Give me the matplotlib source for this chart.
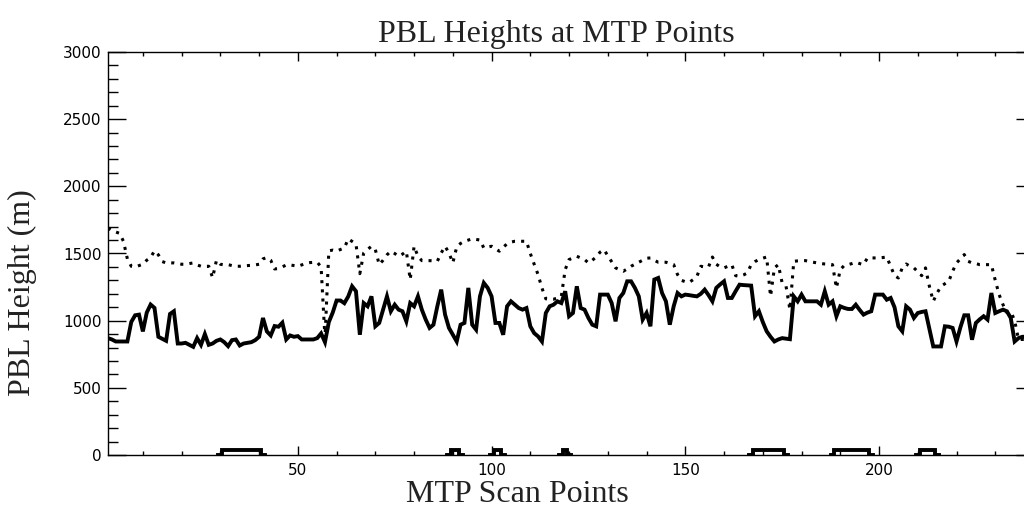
import numpy as np
import matplotlib
matplotlib.use("Agg")
import matplotlib.pyplot as plt
from matplotlib.ticker import MultipleLocator

# MTP scan point index
scan = np.arange(1, 239)

# PBL height, solid curve (m)
pbl_solid = [
    870, 860, 845, 845, 845, 845, 990, 1040, 1045, 920,
    1060, 1120, 1095, 880, 865, 850, 1050, 1070, 830, 830,
    835, 820, 805, 870, 820, 900, 820, 830, 850, 860,
    840, 810, 855, 860, 815, 830, 835, 840, 855, 880,
    1020, 920, 890, 960, 955, 985, 860, 890, 880, 885,
    860, 860, 860, 860, 870, 905, 840, 990, 1060, 1150,
    1150, 1130, 1180, 1256, 1219, 895, 1131, 1107, 1181, 958,
    983, 1082, 1181, 1070, 1119, 1082, 1070, 995, 1131, 1107,
    1181, 1082, 1008, 946, 970, 1107, 1231, 1045, 946, 895,
    845, 970, 983, 1244, 970, 933, 1181, 1281, 1244, 1181,
    983, 983, 895, 1107, 1144, 1119, 1094, 1082, 1094, 958,
    907, 883, 845, 1057, 1107, 1119, 1144, 1131, 1219, 1033,
    1057, 1256, 1094, 1082, 1020, 970, 958, 1194, 1194, 1194,
    1131, 995, 1169, 1206, 1293, 1293, 1244, 1181, 1008, 1057,
    958, 1306, 1318, 1206, 1144, 970, 1107, 1206, 1181, 1194,
    1190, 1185, 1181, 1200, 1231, 1190, 1144, 1244, 1270, 1293,
    1169, 1169, 1220, 1268, 1265, 1263, 1261, 1033, 1070, 990,
    921, 880, 845, 860, 870, 866, 862, 1181, 1144, 1194,
    1144, 1144, 1144, 1144, 1119, 1219, 1119, 1144, 1033, 1107,
    1095, 1087, 1087, 1119, 1080, 1045, 1060, 1070, 1194, 1194,
    1194, 1156, 1169, 1100, 958, 921, 1107, 1082, 1020, 1057,
    1065, 1070, 940, 808, 808, 808, 958, 955, 946, 845,
    950, 1040, 1040, 858, 983, 1010, 1033, 1008, 1206, 1057,
    1070, 1082, 1070, 1020, 845, 870, 880, 880,
]

# PBL height, dotted curve (m)
pbl_dotted = [
    1690, 1670, 1660, 1650, 1590, 1460, 1405, 1400, 1410, 1420,
    1450, 1470, 1520, 1490, 1440, 1430, 1430, 1430, 1425, 1420,
    1420, 1425, 1430, 1415, 1405, 1405, 1405, 1320, 1450, 1420,
    1415, 1417, 1410, 1405, 1405, 1408, 1410, 1412, 1415, 1420,
    1460, 1470, 1450, 1385, 1388, 1400, 1415, 1415, 1410, 1405,
    1415, 1428, 1432, 1434, 1435, 1400, 870, 1520, 1525, 1517,
    1530, 1541, 1609, 1590, 1571, 1350, 1504, 1530, 1554, 1529,
    1417, 1450, 1490, 1517, 1500, 1479, 1495, 1517, 1305, 1554,
    1479, 1447, 1447, 1447, 1445, 1442, 1504, 1554, 1504, 1430,
    1549, 1575, 1591, 1600, 1609, 1605, 1600, 1541, 1548, 1554,
    1535, 1517, 1545, 1573, 1585, 1591, 1591, 1591, 1591, 1500,
    1420, 1343, 1243, 1163, 1160, 1160, 1168, 1180, 1380, 1455,
    1467, 1479, 1467, 1455, 1430, 1450, 1474, 1510, 1529, 1484,
    1440, 1393, 1380, 1368, 1385, 1405, 1420, 1435, 1450, 1465,
    1467, 1450, 1435, 1435, 1435, 1425, 1417, 1343, 1300, 1290,
    1285, 1305, 1330, 1405, 1400, 1400, 1474, 1420, 1400, 1393,
    1405, 1417, 1335, 1330, 1340, 1355, 1417, 1440, 1455, 1465,
    1474, 1181, 1393, 1417, 1281, 1256, 1082, 1442, 1445, 1447,
    1447, 1440, 1435, 1430, 1425, 1422, 1420, 1417, 1243, 1380,
    1410, 1417, 1425, 1435, 1425, 1417, 1467, 1467, 1467, 1467,
    1470, 1474, 1405, 1335, 1318, 1393, 1422, 1405, 1393, 1365,
    1335, 1393, 1256, 1144, 1206, 1256, 1275, 1293, 1368, 1430,
    1460, 1492, 1442, 1430, 1425, 1417, 1417, 1417, 1417, 1300,
    1194, 1119, 1060, 1070, 1000, 860, 860, 860,
]

# scan points flagged along the bottom of the plot
flag_points = [31, 32, 33, 34, 35, 36, 37, 38, 39, 40,
               90, 91, 101, 102, 119,
               168, 169, 170, 171, 172, 173, 174, 175,
               189, 190, 191, 192, 193, 194, 195, 196, 197,
               211, 212, 213, 214]
flag_level = 40

# flag trace: raised at flagged points, back to zero next to them
flag = np.full(len(scan), np.nan)
for p in flag_points:
    k = p - 1
    for n in (k - 1, k + 1):
        if 0 <= n < len(scan) and np.isnan(flag[n]):
            flag[n] = 0
for p in flag_points:
    flag[p - 1] = flag_level

serif = ["Liberation Serif", "DejaVu Serif"]

fig = plt.figure(figsize=(10.24, 5.08), dpi=100)
W, H = 1024.0, 508.0
ax = fig.add_axes([108 / W, (H - 455) / H, (1034 - 108) / W, (455 - 52) / H])

ax.plot(scan, pbl_solid, color="black", lw=2.8, solid_joinstyle="miter")
ax.plot(scan, pbl_dotted, color="black", lw=2.2, linestyle=(0, (1, 2.0)))
ax.plot(scan, flag, color="black", lw=2.8, drawstyle="steps-mid",
        solid_joinstyle="miter")

ax.set_xlim(1, 240)
ax.set_ylim(0, 3000)
ax.xaxis.set_major_locator(MultipleLocator(50))
ax.xaxis.set_minor_locator(MultipleLocator(10))
ax.yaxis.set_major_locator(MultipleLocator(500))
ax.yaxis.set_minor_locator(MultipleLocator(100))

ax.tick_params(axis="both", which="both", direction="in", top=True, right=True,
               width=1.0, color="black")
ax.tick_params(axis="x", which="major", length=6.5, pad=6, labelsize=11)
ax.tick_params(axis="x", which="minor", length=3)
ax.tick_params(axis="y", which="major", length=13, pad=4.5, labelsize=11)
ax.tick_params(axis="y", which="minor", length=7.2)
for s in ax.spines.values():
    s.set_linewidth(1.0)

fig.text(556 / W, 1 - 42 / H, "PBL Heights at MTP Points", ha="center",
         va="baseline", fontsize=23, family=serif, color="#222222")
fig.text(517 / W, 1 - 502 / H, "MTP Scan Points", ha="center",
         va="baseline", fontsize=23, family=serif, color="#222222")
fig.text(22 / W, 1 - 293 / H, "PBL Height (m)", ha="center", va="center",
         rotation=90, fontsize=23, family=serif, color="#222222")

fig.savefig("out.png", dpi=100)
